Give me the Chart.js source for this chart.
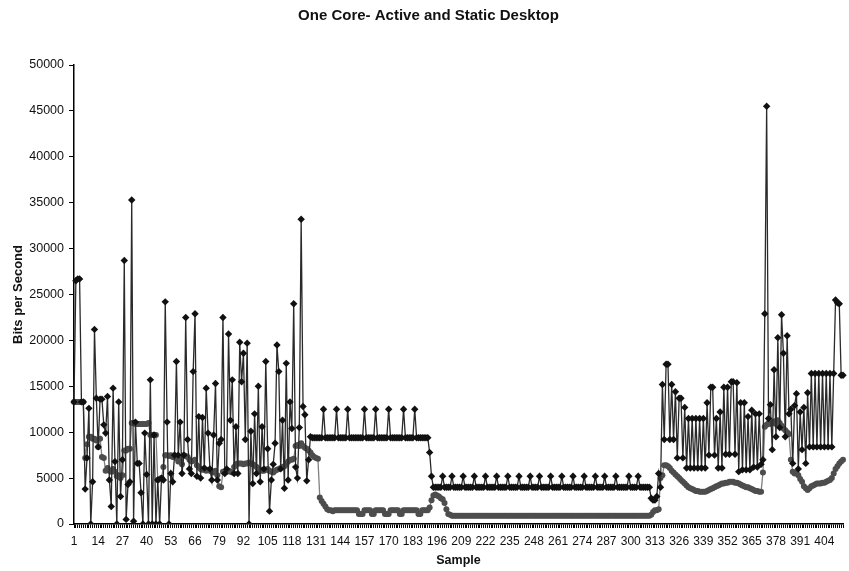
<!DOCTYPE html>
<html>
<head>
<meta charset="utf-8">
<script src="https://cdn.jsdelivr.net/npm/chart.js@4.4.0/dist/chart.umd.min.js"></script>
<style>
  html, body { margin: 0; padding: 0; background: #fff; overflow: hidden; }
  #wrap { width: 849px; height: 571px; }
</style>
</head>
<body>
<div id="wrap"><canvas id="chart" width="849" height="571"></canvas></div>
<script>
// sample numbers 1..414 along the category axis
const samples = Array.from({ length: 414 }, (_, i) => i + 1);
const tickLabels = [1, 14, 27, 40, 53, 66, 79, 92, 105, 118, 131, 144, 157, 170, 183, 196, 209, 222, 235, 248, 261, 274, 287, 300, 313, 326, 339, 352, 365, 378, 391, 404];

// black series (diamond markers)
const activeBits = [
  13300,26500,26700,26700,13300,13300,3800,7200,12600,0,
  4600,21200,13700,8400,13600,13600,10800,9900,13900,4800,
  1900,14800,6800,0,13300,3000,7000,28700,500,4300,
  4600,35300,300,11100,6600,6600,3400,0,9900,5400,
  0,15700,0,9700,0,4800,0,5000,4800,24200,
  11100,0,5500,4600,7500,17700,7500,11100,5500,7500,
  22500,9200,6000,5500,16600,22900,5200,11700,5000,11600,
  6100,14800,9900,6000,4800,9700,15300,4800,8800,9200,
  22500,5500,6000,20700,11300,15700,5500,10600,5500,19800,
  15500,18600,9200,19700,0,10100,4400,12000,5500,15000,
  4600,10600,6000,17700,8200,1400,4800,6500,8800,19500,
  16600,6000,11300,3900,17500,4800,13300,10400,24000,6200,
  5000,10500,33200,12800,11900,4700,7000,9500,9400,9400,
  9400,9400,9400,9400,12500,9400,9400,9400,9400,9400,
  9400,12500,9400,9400,9400,9400,9400,12500,9400,9400,
  9400,9400,9400,9400,9400,9400,12500,9400,9400,9400,
  9400,9400,12500,9400,9400,9400,9400,9400,9400,12500,
  9400,9400,9400,9400,9400,9400,9400,12500,9400,9400,
  9400,9400,9400,12500,9400,9400,9400,9400,9400,9400,
  9400,7800,5200,4000,4000,4000,4000,4000,5200,4000,
  4000,4000,4000,5200,4000,4000,4000,4000,4000,5200,
  4000,4000,4000,4000,4000,5200,4000,4000,4000,4000,
  4000,5200,4000,4000,4000,4000,4000,5200,4000,4000,
  4000,4000,4000,5200,4000,4000,4000,4000,4000,5200,
  4000,4000,4000,4000,4000,5200,4000,4000,4000,4000,
  5200,4000,4000,4000,4000,4000,5200,4000,4000,4000,
  4000,4000,5200,4000,4000,4000,4000,4000,5200,4000,
  4000,4000,4000,4000,5200,4000,4000,4000,4000,4000,
  5200,4000,4000,4000,4000,5200,4000,4000,4000,4000,
  4000,5200,4000,4000,4000,4000,4000,4000,5200,4000,
  4000,4000,4000,5200,4000,4000,4000,4000,4000,4000,
  2800,2600,2600,3000,5500,4000,15200,9200,17400,17400,
  9200,15200,9200,14400,7200,13700,13700,7200,12700,6100,
  11500,6100,11500,6100,11500,6100,11500,6100,11500,6100,
  13200,7500,14900,14900,7500,11500,6100,12200,6100,14900,
  7600,14900,7600,15500,15500,7600,15400,5700,13200,5900,
  13200,5900,11700,5900,12400,6200,12000,6200,12000,6500,
  7000,22900,45500,11500,13000,8100,16800,9500,20300,10500,
  22800,18600,9500,20500,12000,12500,6600,12900,14200,6000,
  12200,8100,12700,6600,14300,8400,16400,8400,16400,8400,
  16400,8400,16400,8400,16400,8400,16400,8400,16400,24400,
  24100,24000,16200,16200
];

// grey series (round markers)
const staticBits = [
  13300,13300,13300,13300,13300,13300,7200,8700,9500,9500,
  9300,9300,9100,8400,9300,7300,7200,5800,6100,5800,
  5700,6000,5700,5200,5300,5000,5300,8000,8000,8200,
  8200,11000,11000,10900,10900,10900,10900,10900,10900,10900,
  11000,9700,9700,9700,9700,4800,4900,5000,6200,7500,
  7500,7400,7500,7300,7500,7200,6800,7000,6500,7500,
  7400,7300,7000,6800,6900,7000,6400,6200,6000,5900,
  5900,5800,5900,5800,5700,5600,5800,5300,4100,4000,
  5700,5600,5700,5800,5700,5600,6200,6500,6600,6600,
  6600,6500,6600,6600,6700,6600,6500,6400,6200,6000,
  5900,5800,5800,5900,6000,5800,5700,5600,5800,5900,
  6000,6100,6200,6300,6500,6800,7000,7000,7100,8500,
  8600,8500,8800,8500,8300,8200,8000,7800,7500,7300,
  7200,7100,2900,2500,2200,1900,1600,1500,1500,1400,
  1500,1500,1500,1500,1500,1500,1500,1500,1500,1500,
  1500,1500,1500,1100,1100,1100,1500,1500,1500,1500,
  1100,1100,1500,1500,1500,1500,1500,1100,1100,1100,
  1500,1500,1500,1500,1500,1100,1100,1500,1500,1500,
  1500,1500,1500,1500,1500,1100,1100,1500,1500,1500,
  1500,1800,2600,3100,3200,3100,3000,2800,2700,2300,
  1600,1100,1000,900,900,900,900,900,900,900,
  900,900,900,900,900,900,900,900,900,900,
  900,900,900,900,900,900,900,900,900,900,
  900,900,900,900,900,900,900,900,900,900,
  900,900,900,900,900,900,900,900,900,900,
  900,900,900,900,900,900,900,900,900,900,
  900,900,900,900,900,900,900,900,900,900,
  900,900,900,900,900,900,900,900,900,900,
  900,900,900,900,900,900,900,900,900,900,
  900,900,900,900,900,900,900,900,900,900,
  900,900,900,900,900,900,900,900,900,900,
  1000,1300,1500,1500,1600,5000,5300,6400,6400,6300,
  6100,5800,5600,5400,5200,5000,4800,4600,4400,4200,
  4000,3900,3800,3700,3600,3600,3500,3500,3500,3500,
  3600,3700,3800,3900,4000,4100,4200,4300,4400,4400,
  4500,4500,4600,4600,4600,4500,4500,4400,4300,4200,
  4100,4000,4000,3900,3800,3700,3600,3600,3500,3500,
  5600,10600,10800,11000,10900,11000,11200,10900,11300,11000,
  10700,10400,10200,10000,9800,7000,5700,5500,5600,5300,
  4900,4600,4100,3900,3700,3900,4100,4200,4300,4400,
  4400,4400,4500,4500,4600,4700,4800,5000,5500,6000,
  6300,6600,6800,7000
];

Chart.defaults.font.family = '"Liberation Sans", Arial, sans-serif';
Chart.defaults.color = '#111';

const ctx = document.getElementById('chart').getContext('2d');
new Chart(ctx, {
  type: 'line',
  data: {
    labels: samples,
    datasets: [
      {
        label: 'Active',
        data: activeBits,
        borderColor: '#2a2a2a',
        borderWidth: 1.3,
        pointStyle: 'rectRot',
        pointRadius: 3.7,
        pointBackgroundColor: '#111',
        pointBorderWidth: 0,
        tension: 0,
        order: 0
      },
      {
        label: 'Static',
        data: staticBits,
        borderColor: '#808080',
        borderWidth: 1.3,
        pointStyle: 'circle',
        pointRadius: 3,
        pointBackgroundColor: '#4d4d4d',
        pointBorderWidth: 0,
        tension: 0,
        order: 1
      }
    ]
  },
  options: {
    responsive: false,
    animation: false,
    layout: { padding: { left: 8, right: 0, top: 0, bottom: 3 } },
    plugins: {
      legend: { display: false },
      tooltip: { enabled: false },
      title: {
        display: true,
        text: 'One Core- Active and Static Desktop',
        font: { size: 15, weight: 'bold' },
        color: '#111',
        padding: { top: 7, bottom: 40 }
      }
    },
    scales: {
      x: {
        type: 'category',
        offset: false,
        grid: { drawOnChartArea: false, drawTicks: true, tickLength: 4, color: '#000', lineWidth: 1 },
        border: { color: '#000', width: 1.5 },
        ticks: {
          autoSkip: false,
          maxRotation: 0,
          minRotation: 0,
          padding: 6,
          font: { size: 12 },
          callback: function (value, index) {
            const s = samples[index];
            return tickLabels.includes(s) ? String(s) : '';
          }
        },
        title: { display: true, text: 'Sample', font: { size: 12.5, weight: 'bold' }, padding: { top: 2, bottom: 0 } },
        afterFit: function (scale) { scale.height = 44; }
      },
      y: {
        min: 0,
        max: 50000,
        ticks: {
          stepSize: 5000,
          font: { size: 12.5 },
          padding: 5,
          callback: function (value) { return String(value); }
        },
        grid: { drawOnChartArea: false, tickLength: 5, color: '#000' },
        border: { color: '#000', width: 1.5 },
        title: { display: true, text: 'Bits per Second', font: { size: 13, weight: 'bold' }, padding: { top: 3, bottom: 2 } },
        afterFit: function (scale) { scale.width = 66; }
      }
    }
  }
});
</script>
</body>
</html>
